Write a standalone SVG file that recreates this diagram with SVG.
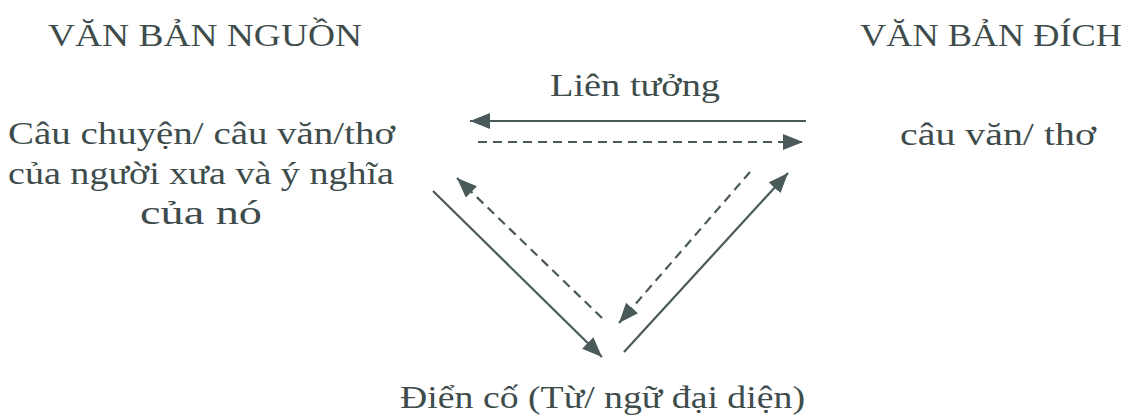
<svg xmlns="http://www.w3.org/2000/svg" width="1128" height="417" viewBox="0 0 1128 417">
<defs>
<style>
.t{font-family:"Liberation Serif","Times New Roman",serif;fill:#3e4c4c;}
.ln{stroke:#4a5959;stroke-width:2.2;fill:none;}
.d{stroke-dasharray:9 6;}
</style>
<marker id="ah" markerUnits="userSpaceOnUse" markerWidth="22" markerHeight="18" refX="20" refY="8" orient="auto">
<path d="M0,0 L20,8 L0,16 z" fill="#4a5959"/>
</marker>
</defs>
<rect width="1128" height="417" fill="#ffffff"/>
<g id="src-title"><text class="t" x="48" y="46" font-size="32" textLength="314" lengthAdjust="spacingAndGlyphs">VĂN BẢN NGUỒN</text></g>
<g id="dst-title"><text class="t" x="860" y="46" font-size="32" textLength="262" lengthAdjust="spacingAndGlyphs">VĂN BẢN ĐÍCH</text></g>
<g id="assoc-label"><text class="t" x="550" y="96" font-size="31" textLength="170" lengthAdjust="spacingAndGlyphs">Liên tưởng</text></g>
<g id="source">
<text class="t" x="8" y="144" font-size="31" textLength="387" lengthAdjust="spacingAndGlyphs">Câu chuyện/ câu văn/thơ</text>
<text class="t" x="8" y="184" font-size="31" textLength="386" lengthAdjust="spacingAndGlyphs">của người xưa và ý nghĩa</text>
<text class="t" x="140" y="224" font-size="34" textLength="122" lengthAdjust="spacingAndGlyphs">của nó</text>
</g>
<g id="target"><text class="t" x="900" y="145" font-size="31" textLength="196" lengthAdjust="spacingAndGlyphs">câu văn/ thơ</text></g>
<g id="allusion"><text class="t" x="400" y="408" font-size="32" textLength="405" lengthAdjust="spacingAndGlyphs">Điển cố (Từ/ ngữ đại diện)</text></g>
<g id="connectors">
<line class="ln" x1="806" y1="121" x2="470" y2="121" marker-end="url(#ah)"/>
<line class="ln d" x1="478" y1="142" x2="803" y2="142" marker-end="url(#ah)"/>
<line class="ln" x1="433" y1="191" x2="602" y2="357" marker-end="url(#ah)"/>
<line class="ln d" x1="602" y1="318" x2="457" y2="178" marker-end="url(#ah)"/>
<line class="ln d" x1="750" y1="172" x2="619" y2="323" marker-end="url(#ah)"/>
<line class="ln" x1="624" y1="352" x2="788" y2="173" marker-end="url(#ah)"/>
</g>
</svg>
